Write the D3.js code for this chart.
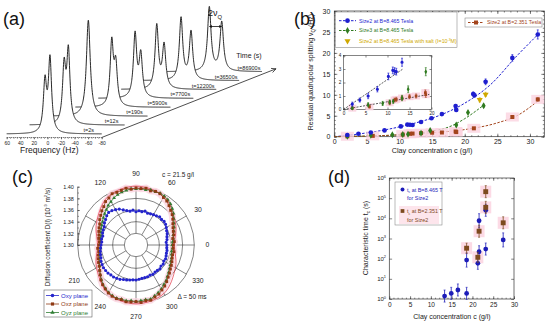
<!DOCTYPE html>
<html>
<head>
<meta charset="utf-8">
<script src="https://cdn.jsdelivr.net/npm/d3@7"></script>
<style>
  body { margin: 0; background: #fff; }
  text { font-family: "Liberation Sans", Arial, Helvetica, sans-serif; }
</style>
</head>
<body>
<svg id="fig" width="550" height="325"></svg>
<script>
// ---- (a) NMR spectra, one entry per time ----
const specTimes = ["t=2s", "t=12s", "t=190s", "t=5900s", "t=7700s", "t=12200s", "t=36500s", "t=86900s"];
const specCenterHz = [-0.1, 6.0, 7.2, 3.5, 1.6, 2.2, -1.8, -11.5];
const specSplitHz = [7.4, 6.3, 0, 5.9, 8.4, 10.8, 14.7, 18.3];
const specAmpLeft = [50, 56, 96, 63, 63, 63, 62, 64];
const specAmpRight = [73, 71, 0, 40, 42, 43, 48, 49];
const specWidthHz = [2.8, 2.8, 3.4, 2.8, 2.9, 3.0, 3.0, 3.1];
const freqTicks = [60, 40, 20, 0, -20, -40, -60, -80];

// ---- (b) residual quadrupolar splitting ----
const size2HiC = [2.0, 3.7, 5.6, 7.7, 10.2, 11.2, 11.6, 12.0, 13.3, 14.9, 16.5, 18.6, 18.7, 21.3, 21.5, 23.2, 27.3, 31.2];
const size2HiV = [0.4, 0.7, 1.0, 1.5, 2.45, 2.9, 2.85, 2.8, 3.5, 4.4, 5.4, 7.3, 6.4, 10.2, 9.9, 13.1, 18.8, 24.4];
const size2HiE = [0.15, 0.15, 0.2, 0.2, 0.25, 0.25, 0.25, 0.25, 0.3, 0.3, 0.3, 0.4, 0.4, 0.5, 0.5, 0.7, 0.8, 1.1];
const size3C = [2.0, 5.6, 8.9, 10.5, 11.3, 13.3, 14.7, 18.7, 20.5, 22.9];
const size3V = [0.1, 0.35, 0.45, 0.55, 0.6, 0.85, 1.5, 2.8, 5.8, 7.4];
const size3E = [0.1, 0.15, 0.15, 0.15, 0.15, 0.2, 0.25, 0.3, 0.3, 0.35];
const saltC = [22.3, 23.2];
const saltV = [8.8, 10.1];
const saltE = [0.5, 0.5];
const size2LoC = [2.0, 5.9, 10.5, 11.6, 12.0, 13.3, 15.0, 16.5, 18.6, 18.7, 21.4, 27.3, 31.2];
const size2LoV = [0.1, 0.2, 0.5, 0.7, 0.75, 0.85, 0.95, 1.0, 1.25, 1.1, 2.0, 4.7, 8.9];
const size2LoE = [0.1, 0.1, 0.15, 0.15, 0.15, 0.15, 0.15, 0.15, 0.2, 0.2, 0.2, 0.3, 0.4];
const fitHiC = [0, 4, 8, 12, 16, 20, 24, 28, 31.5];
const fitHiV = [0, 0.7, 1.7, 3.1, 5.0, 8.0, 12.5, 19.3, 24.8];
const fit3C = [0, 6, 10, 14, 18, 20, 22.8];
const fit3V = [0, 0.2, 0.45, 1.1, 2.6, 4.3, 7.4];
const fitLoC = [0, 5, 10, 15, 20, 25, 28, 31.5];
const fitLoV = [0, 0.15, 0.45, 0.95, 1.7, 3.3, 5.0, 8.9];
const insetFitHiC = [0, 13.5], insetFitHiV = [0, 3.0];
const insetFitLoC = [0, 19.5], insetFitLoV = [0, 1.12];
const bXTicks = [0, 5, 10, 15, 20, 25, 30];
const bYTicks = [0, 5, 10, 15, 20, 25, 30];

// ---- (c) polar diffusion coefficients, every 5 degrees ----
const polarAngles = d3.range(0, 360, 5);
const dOxy = [1.353, 1.352, 1.354, 1.355, 1.357, 1.358, 1.360, 1.362, 1.363, 1.362, 1.363, 1.361,
  1.360, 1.359, 1.358, 1.360, 1.358, 1.359, 1.357, 1.360, 1.359, 1.361, 1.364, 1.368,
  1.370, 1.372, 1.373, 1.371, 1.368, 1.366, 1.363, 1.362, 1.361, 1.359, 1.360, 1.359,
  1.360, 1.361, 1.362, 1.363, 1.364, 1.366, 1.367, 1.368, 1.368, 1.368, 1.367, 1.367,
  1.366, 1.365, 1.363, 1.362, 1.361, 1.360, 1.360, 1.359, 1.358, 1.358, 1.358, 1.357,
  1.358, 1.357, 1.357, 1.358, 1.356, 1.357, 1.355, 1.356, 1.355, 1.354, 1.354, 1.353];
const dOxz = [1.364, 1.366, 1.364, 1.367, 1.368, 1.370, 1.373, 1.377, 1.381, 1.384, 1.388, 1.392,
  1.394, 1.397, 1.398, 1.396, 1.399, 1.397, 1.398, 1.396, 1.399, 1.397, 1.396, 1.397,
  1.393, 1.391, 1.386, 1.383, 1.379, 1.376, 1.372, 1.370, 1.368, 1.366, 1.365, 1.363,
  1.364, 1.366, 1.365, 1.367, 1.369, 1.371, 1.373, 1.376, 1.380, 1.385, 1.389, 1.392,
  1.395, 1.397, 1.398, 1.397, 1.399, 1.398, 1.397, 1.399, 1.397, 1.398, 1.395, 1.393,
  1.389, 1.386, 1.382, 1.378, 1.375, 1.372, 1.370, 1.368, 1.366, 1.365, 1.366, 1.364];
const dOyz = [1.362, 1.363, 1.365, 1.366, 1.369, 1.372, 1.375, 1.379, 1.384, 1.388, 1.392, 1.395,
  1.397, 1.398, 1.397, 1.398, 1.396, 1.397, 1.396, 1.397, 1.395, 1.394, 1.392, 1.389,
  1.386, 1.383, 1.379, 1.376, 1.373, 1.370, 1.368, 1.366, 1.364, 1.362, 1.362, 1.361,
  1.362, 1.361, 1.363, 1.364, 1.366, 1.369, 1.372, 1.376, 1.380, 1.384, 1.388, 1.391,
  1.394, 1.396, 1.397, 1.396, 1.397, 1.396, 1.397, 1.396, 1.395, 1.396, 1.393, 1.390,
  1.387, 1.383, 1.380, 1.376, 1.373, 1.370, 1.368, 1.366, 1.365, 1.363, 1.362, 1.363];
const fitAngles = [0, 30, 60, 90, 120, 150, 180, 210, 240, 270, 300, 330];
const dFit = [1.366, 1.378, 1.396, 1.401, 1.396, 1.378, 1.366, 1.378, 1.396, 1.401, 1.396, 1.378];
const radialTicks = [1.30, 1.32, 1.34, 1.36, 1.38, 1.40];
const angleLabels = [0, 30, 60, 90, 120, 210, 240, 270, 300, 330];

// ---- (d) characteristic time ----
const tcHiC = [13.3, 14.9, 16.5, 18.6, 18.6, 21.3, 21.6, 21.6, 23.2, 23.2, 27.4];
const tcHiV = [1.4, 1.9, 2.8, 1.9, 85, 59, 220, 7600, 300, 25000, 850];
const tcHiE = [0.3, 0.3, 0.3, 0.3, 0.35, 0.3, 0.3, 0.35, 0.3, 0.3, 0.35];
const tcLoC = [18.6, 21.3, 21.6, 23.2, 23.2, 27.4];
const tcLoV = [330, 117, 2300, 210000, 35000, 6000];
const tcLoE = [0.25, 0.25, 0.3, 0.3, 0.3, 0.3];
const dXTicks = [0, 5, 10, 15, 20, 25, 30];
const dYTicks = [1, 10, 100, 1e3, 1e4, 1e5, 1e6];

const BLUE = "#1e1ecf", GREEN = "#2f7a1f", YELLOW = "#cfa800", BROWN = "#a3441c", PINK = "#fbd3e0";
const svg = d3.select("#fig");

// text with sub/superscripts
function rich(t, parts, fs) {
  let shift = 0;
  parts.forEach(([s, k]) => {
    const want = k === "sup" ? -fs * 0.4 : k === "sub" ? fs * 0.28 : 0;
    const ts = t.append("tspan").text(s).attr("dy", want - shift);
    if (k) ts.attr("font-size", fs * 0.65);
    shift = want;
  });
  return t;
}

function addAxis(g, axis, tr, values, size, fmt, fs) {
  const a = g.append("g").attr("transform", tr)
    .call(axis.tickValues(values).tickSize(size).tickPadding(2.2).tickFormat(fmt));
  a.select(".domain").remove();
  a.selectAll("line").attr("stroke", "#333").attr("stroke-width", 0.6);
  a.selectAll("text").attr("font-size", fs).attr("fill", "#222")
    .attr("font-family", "Liberation Sans, Arial, sans-serif");
  return a;
}

function sym(type, size) { return d3.symbol().type(type).size(size)(); }

// panel letters
[["(a)", 3, 25], ["(b)", 294, 25], ["(c)", 12, 183], ["(d)", 328, 183]].forEach(([s, x, y]) =>
  svg.append("text").attr("x", x).attr("y", y).attr("font-size", 18).attr("fill", "#111").text(s));

// ================= (a) =================
const gA = svg.append("g");
const freqs = d3.range(60, -80.001, -0.25);
const specX0 = i => 6.7 + i * 22.9, specBase = i => 134 - i * 8.9;
const specScale = i => d3.scaleLinear().domain([60, -80]).range([specX0(i), specX0(i) + 95]);
const specVal = (i, f) => {
  const c = specCenterHz[i], s = specSplitHz[i] / 2, w = specWidthHz[i];
  return specAmpLeft[i] / (1 + ((f - (c + s)) / w) ** 2) + specAmpRight[i] / (1 + ((f - (c - s)) / w) ** 2);
};
for (let i = specTimes.length - 1; i >= 0; i--) {
  const fx = specScale(i), b = specBase(i);
  gA.append("path").attr("fill", "#fff")
    .attr("d", d3.area().x(f => fx(f)).y0(b).y1(f => b - specVal(i, f))(freqs));
  gA.append("path").attr("fill", "none").attr("stroke", "#111").attr("stroke-width", 0.9)
    .attr("d", d3.line().x(f => fx(f)).y(f => b - specVal(i, f))(freqs));
}
specTimes.forEach((t, i) => gA.append("text").attr("x", specX0(i) + 82).attr("y", specBase(i) - 2)
  .attr("text-anchor", "middle").attr("font-size", 5.5).attr("fill", "#222").text(t));

const fAxis = specScale(0);
addAxis(gA, d3.axisBottom(fAxis), "translate(0,137.5)", d3.range(60, -80.1, -5), 1.2, () => "", 5);
addAxis(gA, d3.axisBottom(fAxis), "translate(0,137.5)", freqTicks, 1.8, d => String(d), 5);
gA.append("line").attr("x1", 6.7).attr("x2", 101.7).attr("y1", 137.5).attr("y2", 137.5)
  .attr("stroke", "#333").attr("stroke-width", 0.7).attr("stroke-dasharray", "1.2,0.8");
gA.append("text").attr("x", 20).attr("y", 153).attr("font-size", 8.5).attr("fill", "#222").text("Frequency (Hz)");

// time arrow
const ax0 = [101.7, 137.5], ax1 = [276, 68.8];
gA.append("line").attr("x1", ax0[0]).attr("y1", ax0[1]).attr("x2", ax1[0]).attr("y2", ax1[1])
  .attr("stroke", "#222").attr("stroke-width", 0.8);
const ang = Math.atan2(ax1[1] - ax0[1], ax1[0] - ax0[0]);
[-0.45, 0.45].forEach(da => gA.append("line").attr("x1", ax1[0]).attr("y1", ax1[1])
  .attr("x2", ax1[0] - 5 * Math.cos(ang + da)).attr("y2", ax1[1] - 5 * Math.sin(ang + da))
  .attr("stroke", "#222").attr("stroke-width", 0.8));
gA.append("text").attr("x", 249).attr("y", 58).attr("text-anchor", "middle").attr("font-size", 7)
  .attr("fill", "#222").text("Time (s)");

// 2 nu_Q marker on the last spectrum
{
  const i = specTimes.length - 1, fx = specScale(i);
  const xl = fx(specCenterHz[i] + specSplitHz[i] / 2), xr = fx(specCenterHz[i] - specSplitHz[i] / 2);
  const ya = 26.5;
  gA.append("line").attr("x1", xl).attr("x2", xr).attr("y1", ya).attr("y2", ya).attr("stroke", "#111").attr("stroke-width", 0.8);
  [[xl, 1], [xr, -1]].forEach(([x, s]) => gA.append("path")
    .attr("d", `M${x},${ya} L${x + 2.5 * s},${ya - 1.4} L${x + 2.5 * s},${ya + 1.4} Z`).attr("fill", "#111"));
  rich(gA.append("text").attr("x", 208).attr("y", 16).attr("font-size", 9).attr("fill", "#111"),
    [["2ν", null], ["Q", "sub"]], 9);
}

// ================= (b) =================
const gB = svg.append("g");
const xB = d3.scaleLinear().domain([0, 32.2]).range([334.3, 544.3]);
const yB = d3.scaleLinear().domain([0, 30]).range([136.7, 11]);
gB.append("rect").attr("x", 334.3).attr("y", 11).attr("width", 210).attr("height", 125.7)
  .attr("fill", "none").attr("stroke", "#333").attr("stroke-width", 0.7);
const fmtD = d3.format("d");
addAxis(gB, d3.axisBottom(xB), "translate(0,136.7)", d3.range(0, 32.1, 1), -1.5, () => "", 7);
addAxis(gB, d3.axisBottom(xB), "translate(0,136.7)", bXTicks, -3, fmtD, 7);
addAxis(gB, d3.axisTop(xB), "translate(0,11)", d3.range(0, 32.1, 1), -1.5, () => "", 7);
addAxis(gB, d3.axisTop(xB), "translate(0,11)", bXTicks, -3, () => "", 7);
addAxis(gB, d3.axisLeft(yB), "translate(334.3,0)", d3.range(0, 30.1, 1), -1.5, () => "", 7);
addAxis(gB, d3.axisLeft(yB), "translate(334.3,0)", bYTicks, -3, fmtD, 7).selectAll("text").attr("dx", "-0.25em");
addAxis(gB, d3.axisRight(yB), "translate(544.3,0)", d3.range(0, 30.1, 1), -1.5, () => "", 7);
addAxis(gB, d3.axisRight(yB), "translate(544.3,0)", bYTicks, -3, () => "", 7);
gB.append("text").attr("x", 432).attr("y", 152.5).attr("text-anchor", "middle").attr("font-size", 7.3)
  .attr("fill", "#222").text("Clay concentration c (g/l)");
rich(gB.append("text").attr("transform", "translate(313,72) rotate(-90)").attr("text-anchor", "middle")
  .attr("font-size", 7).attr("fill", "#222"),
  [["Residual quadrupolar splitting  ν", null], ["Q", "sub"], [" (Hz)", null]], 7);

const fitLine = (x, y) => d3.line().x(d => x(d[0])).y(d => y(d[1])).curve(d3.curveMonotoneX);
const zip = (a, b) => a.map((v, i) => [v, b[i]]);

[[fitHiC, fitHiV, BLUE], [fit3C, fit3V, GREEN], [fitLoC, fitLoV, BROWN]].forEach(([c, v, col]) =>
  gB.append("path").attr("d", fitLine(xB, yB)(zip(c, v))).attr("fill", "none").attr("stroke", col)
    .attr("stroke-width", 1).attr("stroke-dasharray", "2.5,1.5"));

// pink halos behind the brown squares
size2LoC.forEach((c, i) => gB.append("rect").attr("x", xB(c) - 6.5).attr("y", yB(size2LoV[i]) - 4.5)
  .attr("width", 13).attr("height", 9).attr("fill", PINK).attr("opacity", 0.8));

function plotPts(g, x, y, C, V, E, color, shape, size, clip) {
  const idx = C.map((c, i) => i).filter(i => !clip || (C[i] <= clip[0] && V[i] + E[i] <= clip[1] + 0.3));
  idx.forEach(i => {
    const xx = x(C[i]), y0 = y(V[i] - E[i]), y1 = y(V[i] + E[i]);
    g.append("line").attr("x1", xx).attr("x2", xx).attr("y1", y0).attr("y2", y1).attr("stroke", color).attr("stroke-width", 0.8);
    [y0, y1].forEach(yy => g.append("line").attr("x1", xx - 1).attr("x2", xx + 1).attr("y1", yy).attr("y2", yy)
      .attr("stroke", color).attr("stroke-width", 0.6));
  });
  idx.forEach(i => g.append("path").attr("d", sym(shape, size)).attr("fill", color)
    .attr("transform", `translate(${x(C[i])},${y(V[i])})${shape === d3.symbolTriangle ? " rotate(180)" : ""}`));
}
plotPts(gB, xB, yB, size2LoC, size2LoV, size2LoE, BROWN, d3.symbolSquare, 16);
plotPts(gB, xB, yB, size3C, size3V, size3E, GREEN, d3.symbolDiamond, 14);
plotPts(gB, xB, yB, size2HiC, size2HiV, size2HiE, BLUE, d3.symbolCircle, 17);
plotPts(gB, xB, yB, saltC, saltV, saltE, YELLOW, d3.symbolTriangle, 16);

// legends (b)
gB.append("rect").attr("x", 335.5).attr("y", 12).attr("width", 121.5).attr("height", 35.5)
  .attr("fill", "#fff").attr("stroke", "#777").attr("stroke-width", 0.5);
[[20.7, BLUE, d3.symbolCircle, 17, "Size2 at B=8.465 Tesla"], [30.5, GREEN, d3.symbolDiamond, 14, "Size3 at B=8.465 Tesla"]]
  .forEach(([y, col, sh, sz, txt]) => {
    gB.append("line").attr("x1", 339).attr("x2", 356).attr("y1", y).attr("y2", y).attr("stroke", col)
      .attr("stroke-width", 1).attr("stroke-dasharray", "2.5,1.5");
    gB.append("path").attr("d", sym(sh, sz)).attr("fill", col).attr("transform", `translate(347.5,${y})`);
    gB.append("text").attr("x", 359).attr("y", y + 1.9).attr("font-size", 5.3).attr("fill", col).text(txt);
  });
gB.append("path").attr("d", sym(d3.symbolTriangle, 16)).attr("fill", YELLOW).attr("transform", "translate(347.5,41) rotate(180)");
rich(gB.append("text").attr("x", 359).attr("y", 43).attr("font-size", 5.3).attr("fill", YELLOW),
  [["Size2 at B=8.465 Tesla with salt (I=10", null], ["-3", "sup"], ["M)", null]], 5.3);
gB.append("rect").attr("x", 465).attr("y", 18).attr("width", 77).attr("height", 9)
  .attr("fill", "#fff").attr("stroke", "#777").attr("stroke-width", 0.5);
gB.append("line").attr("x1", 468).attr("x2", 484).attr("y1", 22.5).attr("y2", 22.5).attr("stroke", BROWN)
  .attr("stroke-width", 1).attr("stroke-dasharray", "2.5,1.5");
gB.append("path").attr("d", sym(d3.symbolSquare, 16)).attr("fill", BROWN).attr("transform", "translate(476,22.5)");
gB.append("text").attr("x", 487).attr("y", 24.4).attr("font-size", 5.3).attr("fill", BROWN).text("Size2 at B=2.351 Tesla");

// inset
const xI = d3.scaleLinear().domain([0, 20]).range([343.5, 431.5]);
const yI = d3.scaleLinear().domain([0, 4]).range([109.5, 55.5]);
gB.append("rect").attr("x", 343.5).attr("y", 55.5).attr("width", 88).attr("height", 54)
  .attr("fill", "#fff").attr("stroke", "#333").attr("stroke-width", 0.6);
addAxis(gB, d3.axisBottom(xI), "translate(0,109.5)", [0, 5, 10, 15, 20], -2, fmtD, 4.6);
addAxis(gB, d3.axisTop(xI), "translate(0,55.5)", [0, 5, 10, 15, 20], -2, () => "", 4.6);
addAxis(gB, d3.axisLeft(yI), "translate(343.5,0)", [0, 1, 2, 3, 4], -2, fmtD, 4.6);
addAxis(gB, d3.axisRight(yI), "translate(431.5,0)", [0, 1, 2, 3, 4], -2, () => "", 4.6);
size2LoC.forEach((c, i) => { if (c <= 20) gB.append("rect").attr("x", xI(c) - 4).attr("y", yI(size2LoV[i]) - 3.5)
  .attr("width", 8).attr("height", 7).attr("fill", PINK).attr("opacity", 0.9); });
[[insetFitHiC, insetFitHiV], [insetFitLoC, insetFitLoV]].forEach(([c, v]) =>
  gB.append("path").attr("d", fitLine(xI, yI)(zip(c, v))).attr("fill", "none").attr("stroke", "#333")
    .attr("stroke-width", 0.8).attr("stroke-dasharray", "2,1.3"));
plotPts(gB, xI, yI, size2LoC, size2LoV, size2LoE, BROWN, d3.symbolSquare, 7, [20, 4]);
plotPts(gB, xI, yI, size3C, size3V, size3E, GREEN, d3.symbolDiamond, 7, [20, 4]);
plotPts(gB, xI, yI, size2HiC, size2HiV, size2HiE, BLUE, d3.symbolCircle, 8, [20, 4]);

// ================= (c) =================
const gC = svg.append("g");
const cx = 136, cy = 245, R = 58.3;
const rP = d3.scaleLinear().domain([1.30, 1.40]).range([0, R]);
const toA = deg => Math.PI / 2 - deg * Math.PI / 180;
radialTicks.slice(1).forEach(d => gC.append("circle").attr("cx", cx).attr("cy", cy).attr("r", rP(d))
  .attr("fill", "none").attr("stroke", "#333").attr("stroke-width", 0.6));
d3.range(0, 360, 30).forEach(a => {
  const p0 = d3.pointRadial(toA(a), rP(1.32)), p1 = d3.pointRadial(toA(a), R);
  gC.append("line").attr("x1", cx + p0[0]).attr("y1", cy + p0[1]).attr("x2", cx + p1[0]).attr("y2", cy + p1[1])
    .attr("stroke", "#333").attr("stroke-width", 0.6);
});
angleLabels.forEach(a => {
  const p = d3.pointRadial(toA(a), 71.5);
  gC.append("text").attr("x", cx + p[0]).attr("y", cy + p[1] + 2.4).attr("text-anchor", "middle")
    .attr("font-size", 6.8).attr("fill", "#222").text(a);
});
const radial = (angles, vals) => d3.lineRadial().angle((d, i) => toA(angles[i])).radius(d => rP(d)).curve(d3.curveLinearClosed)(vals);
const gCp = gC.append("g").attr("transform", `translate(${cx},${cy})`);
gCp.append("path").attr("d", radial(polarAngles, dOxz)).attr("fill", "none").attr("stroke", PINK).attr("stroke-width", 7).attr("opacity", 0.8);
gCp.append("path").attr("d", d3.lineRadial().angle((d, i) => toA(fitAngles[i])).radius(d => rP(d)).curve(d3.curveCardinalClosed)(dFit))
  .attr("fill", "none").attr("stroke", "#e03040").attr("stroke-width", 0.7);
function polarSeries(vals, color, shape, size) {
  gCp.append("path").attr("d", radial(polarAngles, vals)).attr("fill", "none").attr("stroke", color).attr("stroke-width", 0.8);
  vals.forEach((d, i) => {
    const p = d3.pointRadial(toA(polarAngles[i]), rP(d));
    gCp.append("path").attr("d", sym(shape, size)).attr("fill", color).attr("transform", `translate(${p[0]},${p[1]})`);
  });
}
const C_GREEN = "#2e7d32", C_BROWN = "#8f3a14", C_BLUE = "#2424cc";
polarSeries(dOyz, C_GREEN, d3.symbolTriangle, 6);
polarSeries(dOxz, C_BROWN, d3.symbolSquare, 8);
polarSeries(dOxy, C_BLUE, d3.symbolCircle, 8);

const yR = d3.scaleLinear().domain([1.30, 1.40]).range([cy, cy - R]);
addAxis(gC, d3.axisLeft(yR), `translate(${cx - R},0)`, d3.range(1.30, 1.4001, 0.01), -1.2, () => "", 5.5);
addAxis(gC, d3.axisLeft(yR), `translate(${cx - R},0)`, radialTicks, -2.2, d3.format(".2f"), 5.5)
  .selectAll("text").attr("dx", "-0.3em");
gC.append("line").attr("x1", cx - R).attr("x2", cx - R).attr("y1", cy).attr("y2", cy - R).attr("stroke", "#333").attr("stroke-width", 0.6);
rich(gC.append("text").attr("transform", "translate(50,237) rotate(-90)").attr("text-anchor", "middle")
  .attr("font-size", 6.4).attr("fill", "#222"),
  [["Diffusion coefficient D(l)  (10", null], ["-9", "sup"], [" m", null], ["2", "sup"], ["/s)", null]], 6.4);
gC.append("text").attr("x", 178).attr("y", 177).attr("text-anchor", "middle").attr("font-size", 6.5).attr("fill", "#222").text("c = 21.5 g/l");
gC.append("text").attr("x", 192).attr("y", 299).attr("text-anchor", "middle").attr("font-size", 6.5).attr("fill", "#222").text("Δ = 50 ms");
gC.append("rect").attr("x", 44).attr("y", 290).attr("width", 48).attr("height", 27)
  .attr("fill", "#fff").attr("stroke", "#444").attr("stroke-width", 0.5);
[["Oxy plane", C_BLUE, d3.symbolCircle, 10, 295.5], ["Oxz plane", C_BROWN, d3.symbolSquare, 10, 304], ["Oyz plane", C_GREEN, d3.symbolTriangle, 8, 312.5]]
  .forEach(([t, col, sh, sz, y]) => {
    gC.append("line").attr("x1", 46).attr("x2", 59).attr("y1", y).attr("y2", y).attr("stroke", col).attr("stroke-width", 0.8);
    gC.append("path").attr("d", sym(sh, sz)).attr("fill", col).attr("transform", `translate(52.5,${y})`);
    gC.append("text").attr("x", 61).attr("y", y + 2).attr("font-size", 6).attr("fill", col).text(t);
  });

// ================= (d) =================
const gD = svg.append("g");
const xD = d3.scaleLinear().domain([0, 30]).range([389.3, 514]);
const yD = d3.scaleLog().domain([1, 1e6]).range([299, 178]);
gD.append("rect").attr("x", 389.3).attr("y", 178).attr("width", 124.7).attr("height", 121)
  .attr("fill", "none").attr("stroke", "#333").attr("stroke-width", 0.7);
addAxis(gD, d3.axisBottom(xD), "translate(0,299)", d3.range(0, 30.1, 1), -1.3, () => "", 6.5);
addAxis(gD, d3.axisBottom(xD), "translate(0,299)", dXTicks, -2.8, fmtD, 6.5).selectAll("text").attr("dy", "0.9em");
addAxis(gD, d3.axisTop(xD), "translate(0,178)", d3.range(0, 30.1, 1), -1.3, () => "", 6.5);
addAxis(gD, d3.axisTop(xD), "translate(0,178)", dXTicks, -2.8, () => "", 6.5);
addAxis(gD, d3.axisLeft(yD), "translate(389.3,0)", dYTicks, -2.8, () => "", 6);
addAxis(gD, d3.axisRight(yD), "translate(514,0)", dYTicks, -2.8, () => "", 6);
dYTicks.forEach(v => rich(gD.append("text").attr("x", 386).attr("y", yD(v) + 2).attr("text-anchor", "end")
  .attr("font-size", 6).attr("fill", "#222"), [["10", null], [String(Math.round(Math.log10(v))), "sup"]], 6));
gD.append("text").attr("x", 452).attr("y", 319).attr("text-anchor", "middle").attr("font-size", 7)
  .attr("fill", "#222").text("Clay concentration c  (g/l)");
rich(gD.append("text").attr("transform", "translate(368,238) rotate(-90)").attr("text-anchor", "middle")
  .attr("font-size", 7).attr("fill", "#222"), [["Characteristic time t", null], ["c", "sub"], [" (s)", null]], 7);

const D_BLUE = "#1c1cb8", D_BROWN = "#7d4a1e";
tcLoC.forEach((c, i) => gD.append("rect").attr("x", xD(c) - 5.5).attr("y", yD(tcLoV[i]) - 6)
  .attr("width", 11).attr("height", 12).attr("fill", PINK).attr("opacity", 0.85));
function logPts(C, V, E, color, shape, size) {
  C.forEach((c, i) => {
    const x = xD(c), y0 = yD(V[i] / 10 ** E[i]), y1 = yD(V[i] * 10 ** E[i]);
    gD.append("line").attr("x1", x).attr("x2", x).attr("y1", y0).attr("y2", y1).attr("stroke", color).attr("stroke-width", 0.8);
    [y0, y1].forEach(yy => gD.append("line").attr("x1", x - 1).attr("x2", x + 1).attr("y1", yy).attr("y2", yy).attr("stroke", color).attr("stroke-width", 0.6));
  });
  C.forEach((c, i) => gD.append("path").attr("d", sym(shape, size)).attr("fill", color)
    .attr("transform", `translate(${xD(c)},${yD(V[i])})`));
}
logPts(tcHiC, tcHiV, tcHiE, D_BLUE, d3.symbolCircle, 18);
logPts(tcLoC, tcLoV, tcLoE, D_BROWN, d3.symbolSquare, 24);

gD.append("rect").attr("x", 395).attr("y", 182).attr("width", 47).attr("height", 43)
  .attr("fill", "#fff").attr("stroke", "#777").attr("stroke-width", 0.5);
gD.append("rect").attr("x", 399).attr("y", 206).attr("width", 40).attr("height", 18).attr("fill", PINK).attr("opacity", 0.6);
gD.append("path").attr("d", sym(d3.symbolCircle, 12)).attr("fill", D_BLUE).attr("transform", "translate(402.5,189.5)");
gD.append("path").attr("d", sym(d3.symbolSquare, 14)).attr("fill", D_BROWN).attr("transform", "translate(402.5,211)");
[[191.5, D_BLUE, "8.465"], [213, D_BROWN, "2.351"]].forEach(([y, col, b]) => {
  rich(gD.append("text").attr("x", 407).attr("y", y).attr("font-size", 5.4).attr("fill", col),
    [["t", null], ["c", "sub"], [` at B=${b} T`, null]], 5.4);
  gD.append("text").attr("x", 407).attr("y", y + 8.5).attr("font-size", 5.4).attr("fill", col).text("for Size2");
});
</script>
</body>
</html>
